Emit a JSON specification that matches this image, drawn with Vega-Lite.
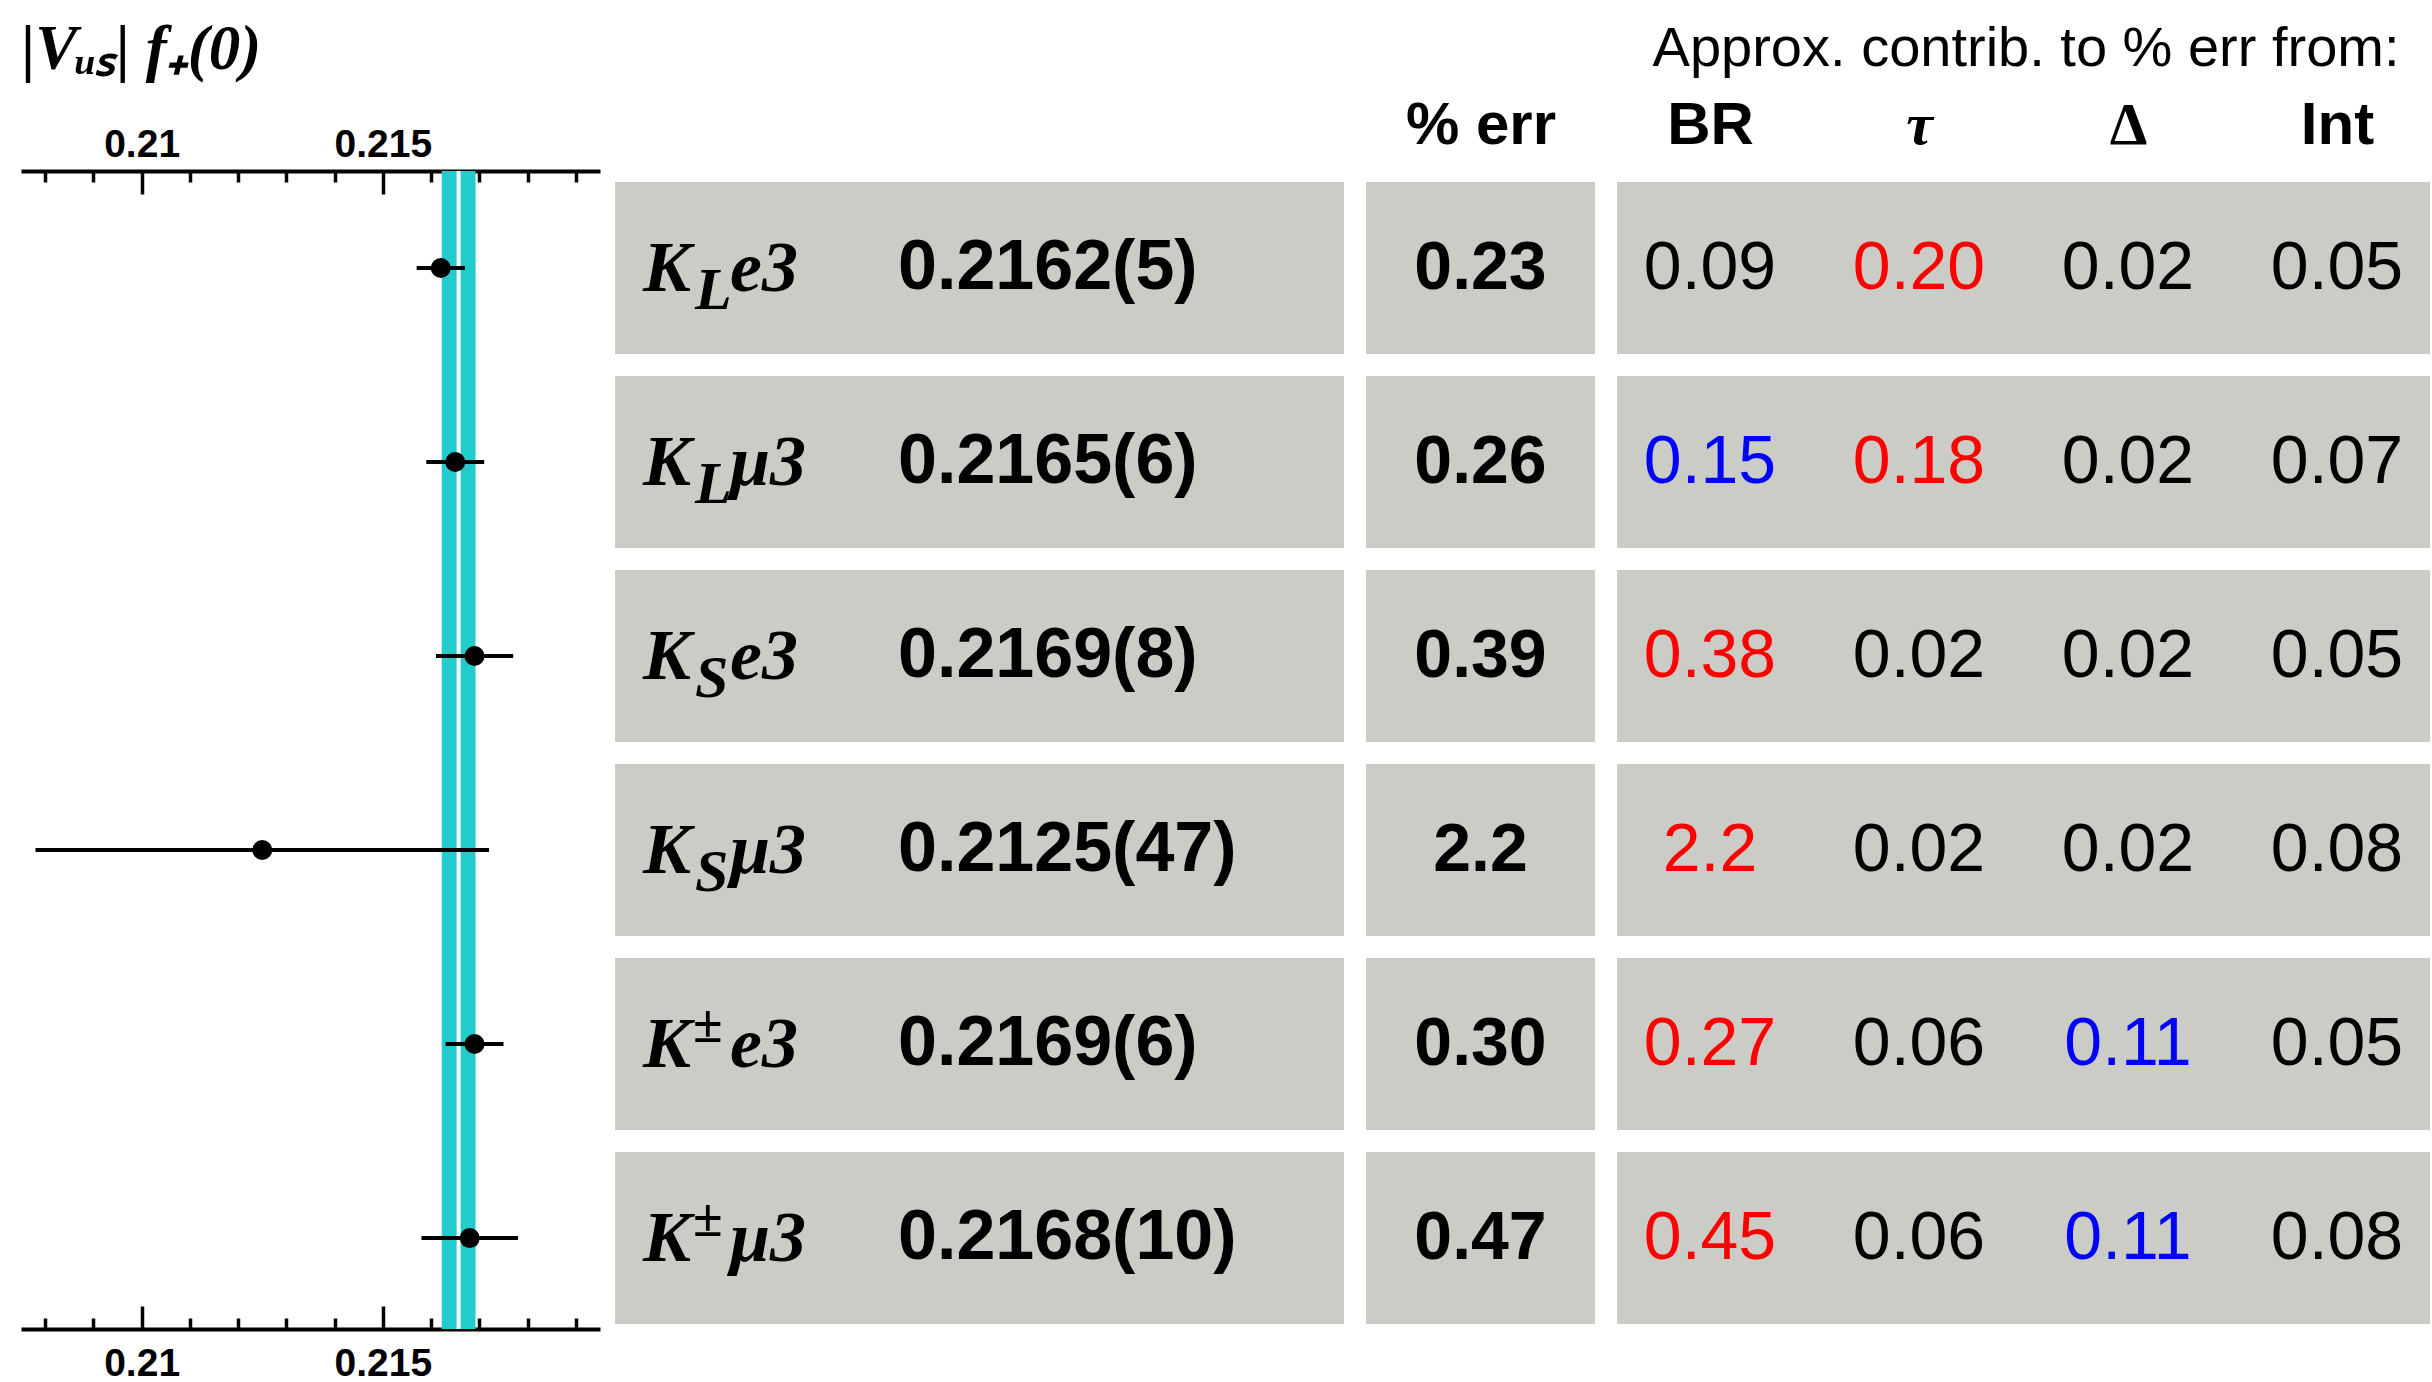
{
  "$schema": "https://vega.github.io/schema/vega-lite/v6.json",
  "background": "white",
  "padding": {"left": 21, "top": 18, "right": 0, "bottom": 0},
  "config": {"view": {"stroke": null}, "axis": {"grid": false}, "font": "Liberation Sans"},
  "datasets": {
    "rows": [
      {"channel": "KLe3", "kaon": "K", "sub": "L", "sup": "", "mode": "e3", "vus": 0.2162, "err": 0.0005, "val": "0.2162(5)", "pct": "0.23"},
      {"channel": "KLμ3", "kaon": "K", "sub": "L", "sup": "", "mode": "μ3", "vus": 0.2165, "err": 0.0006, "val": "0.2165(6)", "pct": "0.26"},
      {"channel": "KSe3", "kaon": "K", "sub": "S", "sup": "", "mode": "e3", "vus": 0.2169, "err": 0.0008, "val": "0.2169(8)", "pct": "0.39"},
      {"channel": "KSμ3", "kaon": "K", "sub": "S", "sup": "", "mode": "μ3", "vus": 0.2125, "err": 0.0047, "val": "0.2125(47)", "pct": "2.2"},
      {"channel": "K±e3", "kaon": "K", "sub": "", "sup": "±", "mode": "e3", "vus": 0.2169, "err": 0.0006, "val": "0.2169(6)", "pct": "0.30"},
      {"channel": "K±μ3", "kaon": "K", "sub": "", "sup": "±", "mode": "μ3", "vus": 0.2168, "err": 0.0010, "val": "0.2168(10)", "pct": "0.47"}
    ],
    "contrib": [
      {"channel": "KLe3", "source": "BR", "contrib": "0.09", "emphasis": "other"},
      {"channel": "KLe3", "source": "tau", "contrib": "0.20", "emphasis": "dominant"},
      {"channel": "KLe3", "source": "Delta", "contrib": "0.02", "emphasis": "other"},
      {"channel": "KLe3", "source": "Int", "contrib": "0.05", "emphasis": "other"},
      {"channel": "KLμ3", "source": "BR", "contrib": "0.15", "emphasis": "secondary"},
      {"channel": "KLμ3", "source": "tau", "contrib": "0.18", "emphasis": "dominant"},
      {"channel": "KLμ3", "source": "Delta", "contrib": "0.02", "emphasis": "other"},
      {"channel": "KLμ3", "source": "Int", "contrib": "0.07", "emphasis": "other"},
      {"channel": "KSe3", "source": "BR", "contrib": "0.38", "emphasis": "dominant"},
      {"channel": "KSe3", "source": "tau", "contrib": "0.02", "emphasis": "other"},
      {"channel": "KSe3", "source": "Delta", "contrib": "0.02", "emphasis": "other"},
      {"channel": "KSe3", "source": "Int", "contrib": "0.05", "emphasis": "other"},
      {"channel": "KSμ3", "source": "BR", "contrib": "2.2", "emphasis": "dominant"},
      {"channel": "KSμ3", "source": "tau", "contrib": "0.02", "emphasis": "other"},
      {"channel": "KSμ3", "source": "Delta", "contrib": "0.02", "emphasis": "other"},
      {"channel": "KSμ3", "source": "Int", "contrib": "0.08", "emphasis": "other"},
      {"channel": "K±e3", "source": "BR", "contrib": "0.27", "emphasis": "dominant"},
      {"channel": "K±e3", "source": "tau", "contrib": "0.06", "emphasis": "other"},
      {"channel": "K±e3", "source": "Delta", "contrib": "0.11", "emphasis": "secondary"},
      {"channel": "K±e3", "source": "Int", "contrib": "0.05", "emphasis": "other"},
      {"channel": "K±μ3", "source": "BR", "contrib": "0.45", "emphasis": "dominant"},
      {"channel": "K±μ3", "source": "tau", "contrib": "0.06", "emphasis": "other"},
      {"channel": "K±μ3", "source": "Delta", "contrib": "0.11", "emphasis": "secondary"},
      {"channel": "K±μ3", "source": "Int", "contrib": "0.08", "emphasis": "other"}
    ],
    "avg": [{"lo": 0.21622, "hi": 0.21692, "mean": 0.21657}]
  },
  "bounds": "flush",
  "align": "each",
  "spacing": 15,
  "hconcat": [
    {
      "width": 579,
      "height": 1158,
      "layer": [
        {
          "data": {"name": "avg"},
          "mark": {"type": "rect", "color": "#22cccc"},
          "encoding": {
            "x": {
              "field": "lo", "type": "quantitative",
              "scale": {"domain": [0.2075, 0.2195], "nice": false, "zero": false},
              "axis": {
                "orient": "top",
                "values": [0.208, 0.209, 0.21, 0.211, 0.212, 0.213, 0.214, 0.215, 0.216, 0.217, 0.218, 0.219],
                "labelExpr": "abs(datum.value-0.21)<0.00001 ? '0.21' : (abs(datum.value-0.215)<0.00001 ? '0.215' : '')",
                "tickSize": {"condition": {"test": "abs(datum.value-0.21)<0.00001 || abs(datum.value-0.215)<0.00001", "value": -23}, "value": -11},
                "tickWidth": 3.5, "tickColor": "black",
                "domainColor": "black", "domainWidth": 4,
                "labelFont": "Liberation Sans", "labelFontWeight": "bold", "labelFontSize": 39, "labelColor": "black",
                "labelPadding": 38, "labelBaseline": "alphabetic", "labelFlush": false, "labelOverlap": false,
                "title": "|Vᵤₛ| f₊(0)",
                "titleFont": "Liberation Serif", "titleFontWeight": "bold", "titleFontStyle": "italic", "titleFontSize": 63,
                "titleColor": "black", "titleX": 0, "titleY": -103, "titleAlign": "left", "titleBaseline": "alphabetic", "titleAngle": 0
              }
            },
            "x2": {"field": "hi"}
          }
        },
        {
          "data": {"name": "avg"},
          "mark": {"type": "rule", "color": "white", "strokeWidth": 4},
          "encoding": {
            "x": {"field": "mean", "type": "quantitative", "scale": {"domain": [0.2075, 0.2195], "nice": false, "zero": false}, "axis": null}
          }
        },
        {
          "data": {"name": "rows"},
          "mark": {"type": "errorbar", "color": "black", "thickness": 4},
          "encoding": {
            "x": {"field": "vus", "type": "quantitative", "scale": {"domain": [0.2075, 0.2195], "nice": false, "zero": false}, "axis": null},
            "xError": {"field": "err"},
            "y": {"field": "channel", "type": "nominal", "sort": null, "axis": null,
                  "scale": {"type": "band", "domain": ["KLe3", "KLμ3", "KSe3", "KSμ3", "K±e3", "K±μ3"], "paddingInner": 0.1134, "paddingOuter": 0.041, "align": 0.69}}
          }
        },
        {
          "data": {"name": "rows"},
          "mark": {"type": "circle", "color": "black", "size": 400, "opacity": 1},
          "encoding": {
            "x": {
              "field": "vus", "type": "quantitative",
              "scale": {"domain": [0.2075, 0.2195], "nice": false, "zero": false},
              "axis": {
                "orient": "bottom",
                "values": [0.208, 0.209, 0.21, 0.211, 0.212, 0.213, 0.214, 0.215, 0.216, 0.217, 0.218, 0.219],
                "labelExpr": "abs(datum.value-0.21)<0.00001 ? '0.21' : (abs(datum.value-0.215)<0.00001 ? '0.215' : '')",
                "tickSize": {"condition": {"test": "abs(datum.value-0.21)<0.00001 || abs(datum.value-0.215)<0.00001", "value": -23}, "value": -11},
                "tickWidth": 3.5, "tickColor": "black",
                "domainColor": "black", "domainWidth": 4,
                "labelFont": "Liberation Sans", "labelFontWeight": "bold", "labelFontSize": 39, "labelColor": "black",
                "labelPadding": 69, "labelBaseline": "alphabetic", "labelFlush": false, "labelOverlap": false,
                "title": null
              }
            },
            "y": {"field": "channel", "type": "nominal", "sort": null, "axis": null,
                  "scale": {"type": "band", "domain": ["KLe3", "KLμ3", "KSe3", "KSμ3", "K±e3", "K±μ3"], "paddingInner": 0.1134, "paddingOuter": 0.041, "align": 0.69}}
          }
        }
      ],
      "resolve": {"axis": {"x": "independent"}}
    },
    {
      "bounds": "flush",
      "align": "each",
      "spacing": 22,
      "hconcat": [
        {
          "width": 729,
          "height": 1158,
          "data": {"name": "rows"},
          "encoding": {
            "y": {"field": "channel", "type": "nominal", "sort": null, "axis": null,
                  "scale": {"type": "band", "domain": ["KLe3", "KLμ3", "KSe3", "KSμ3", "K±e3", "K±μ3"], "paddingInner": 0.1134, "paddingOuter": 0.041, "align": 0.69}}
          },
          "layer": [
            {"mark": {"type": "rect", "color": "#cbccc6"}},
            {
              "mark": {"type": "text", "align": "left", "baseline": "alphabetic", "font": "Liberation Serif", "fontStyle": "italic", "fontWeight": "bold", "fontSize": 72, "dy": 23, "color": "black"},
              "encoding": {"x": {"datum": "name", "type": "nominal", "scale": {"type": "point", "domain": ["name", "value"], "range": [28, 283], "padding": 0}, "axis": null}, "text": {"field": "kaon"}}
            },
            {
              "mark": {"type": "text", "align": "left", "baseline": "alphabetic", "font": "Liberation Serif", "fontStyle": "italic", "fontWeight": "bold", "fontSize": 60, "dx": 52, "dy": 41, "color": "black"},
              "encoding": {"x": {"datum": "name", "type": "nominal", "scale": {"type": "point", "domain": ["name", "value"], "range": [28, 283], "padding": 0}, "axis": null}, "text": {"field": "sub"}}
            },
            {
              "mark": {"type": "text", "align": "left", "baseline": "alphabetic", "font": "Liberation Serif", "fontWeight": "bold", "fontSize": 54, "dx": 50, "dy": -2, "color": "black"},
              "encoding": {"x": {"datum": "name", "type": "nominal", "scale": {"type": "point", "domain": ["name", "value"], "range": [28, 283], "padding": 0}, "axis": null}, "text": {"field": "sup"}}
            },
            {
              "mark": {"type": "text", "align": "left", "baseline": "alphabetic", "font": "Liberation Serif", "fontStyle": "italic", "fontWeight": "bold", "fontSize": 72, "dx": 87, "dy": 23, "color": "black"},
              "encoding": {"x": {"datum": "name", "type": "nominal", "scale": {"type": "point", "domain": ["name", "value"], "range": [28, 283], "padding": 0}, "axis": null}, "text": {"field": "mode"}}
            },
            {
              "mark": {"type": "text", "align": "left", "baseline": "alphabetic", "font": "Liberation Sans", "fontWeight": "bold", "fontSize": 70, "dy": 21, "color": "black"},
              "encoding": {"x": {"datum": "value", "type": "nominal", "scale": {"type": "point", "domain": ["name", "value"], "range": [28, 283], "padding": 0}, "axis": null}, "text": {"field": "val"}}
            }
          ]
        },
        {
          "width": 229,
          "height": 1158,
          "data": {"name": "rows"},
          "encoding": {
            "y": {"field": "channel", "type": "nominal", "sort": null, "axis": null,
                  "scale": {"type": "band", "domain": ["KLe3", "KLμ3", "KSe3", "KSμ3", "K±e3", "K±μ3"], "paddingInner": 0.1134, "paddingOuter": 0.041, "align": 0.69}}
          },
          "layer": [
            {"mark": {"type": "rect", "color": "#cbccc6"}},
            {
              "mark": {"type": "text", "align": "center", "baseline": "alphabetic", "font": "Liberation Sans", "fontWeight": "bold", "fontSize": 68, "dy": 21, "color": "black"},
              "encoding": {
                "x": {"datum": "% err", "type": "nominal", "scale": {"type": "point", "domain": ["% err"]},
                      "axis": {"orient": "top", "ticks": false, "tickSize": 0, "domain": false, "labelAngle": 0,
                               "labelFont": "Liberation Sans", "labelFontWeight": "bold", "labelFontSize": 60, "labelColor": "black",
                               "labelPadding": 28, "labelBaseline": "alphabetic", "title": null}},
                "text": {"field": "pct"}
              }
            }
          ]
        },
        {
          "width": 813,
          "height": 1158,
          "layer": [
            {
              "data": {"name": "rows"},
              "mark": {"type": "rect", "color": "#cbccc6"},
              "encoding": {
                "y": {"field": "channel", "type": "nominal", "sort": null, "axis": null,
                      "scale": {"type": "band", "domain": ["KLe3", "KLμ3", "KSe3", "KSμ3", "K±e3", "K±μ3"], "paddingInner": 0.1134, "paddingOuter": 0.041, "align": 0.69}}
              }
            },
            {
              "data": {"name": "contrib"},
              "mark": {"type": "text", "align": "center", "baseline": "alphabetic", "font": "Liberation Sans", "fontWeight": "normal", "fontSize": 68, "dy": 21},
              "encoding": {
                "y": {"field": "channel", "type": "nominal", "sort": null, "axis": null,
                      "scale": {"type": "band", "domain": ["KLe3", "KLμ3", "KSe3", "KSμ3", "K±e3", "K±μ3"], "paddingInner": 0.1134, "paddingOuter": 0.041, "align": 0.69}},
                "x": {
                  "field": "source", "type": "nominal",
                  "scale": {"type": "point", "domain": ["BR", "tau", "Delta", "Int"], "padding": 0.445},
                  "axis": {
                    "orient": "top", "ticks": false, "tickSize": 0, "domain": false, "labelAngle": 0,
                    "labelExpr": "datum.value == 'tau' ? 'τ' : (datum.value == 'Delta' ? 'Δ' : datum.value)",
                    "labelFont": {"condition": {"test": "datum.value == 'tau' || datum.value == 'Delta'", "value": "Liberation Serif"}, "value": "Liberation Sans"},
                    "labelFontStyle": {"condition": {"test": "datum.value == 'tau'", "value": "italic"}, "value": "normal"},
                    "labelFontWeight": "bold", "labelFontSize": 60, "labelColor": "black",
                    "labelPadding": 28, "labelBaseline": "alphabetic",
                    "title": "Approx. contrib. to % err from:",
                    "titleFont": "Liberation Sans", "titleFontWeight": "normal", "titleFontSize": 56, "titleColor": "black",
                    "titleX": 782, "titleY": -106, "titleAlign": "right", "titleBaseline": "alphabetic", "titleAngle": 0
                  }
                },
                "text": {"field": "contrib"},
                "color": {"field": "emphasis", "type": "nominal",
                          "scale": {"domain": ["dominant", "secondary", "other"], "range": ["#ff0000", "#0000ff", "#000000"]},
                          "legend": null}
              }
            }
          ]
        }
      ]
    }
  ]
}
